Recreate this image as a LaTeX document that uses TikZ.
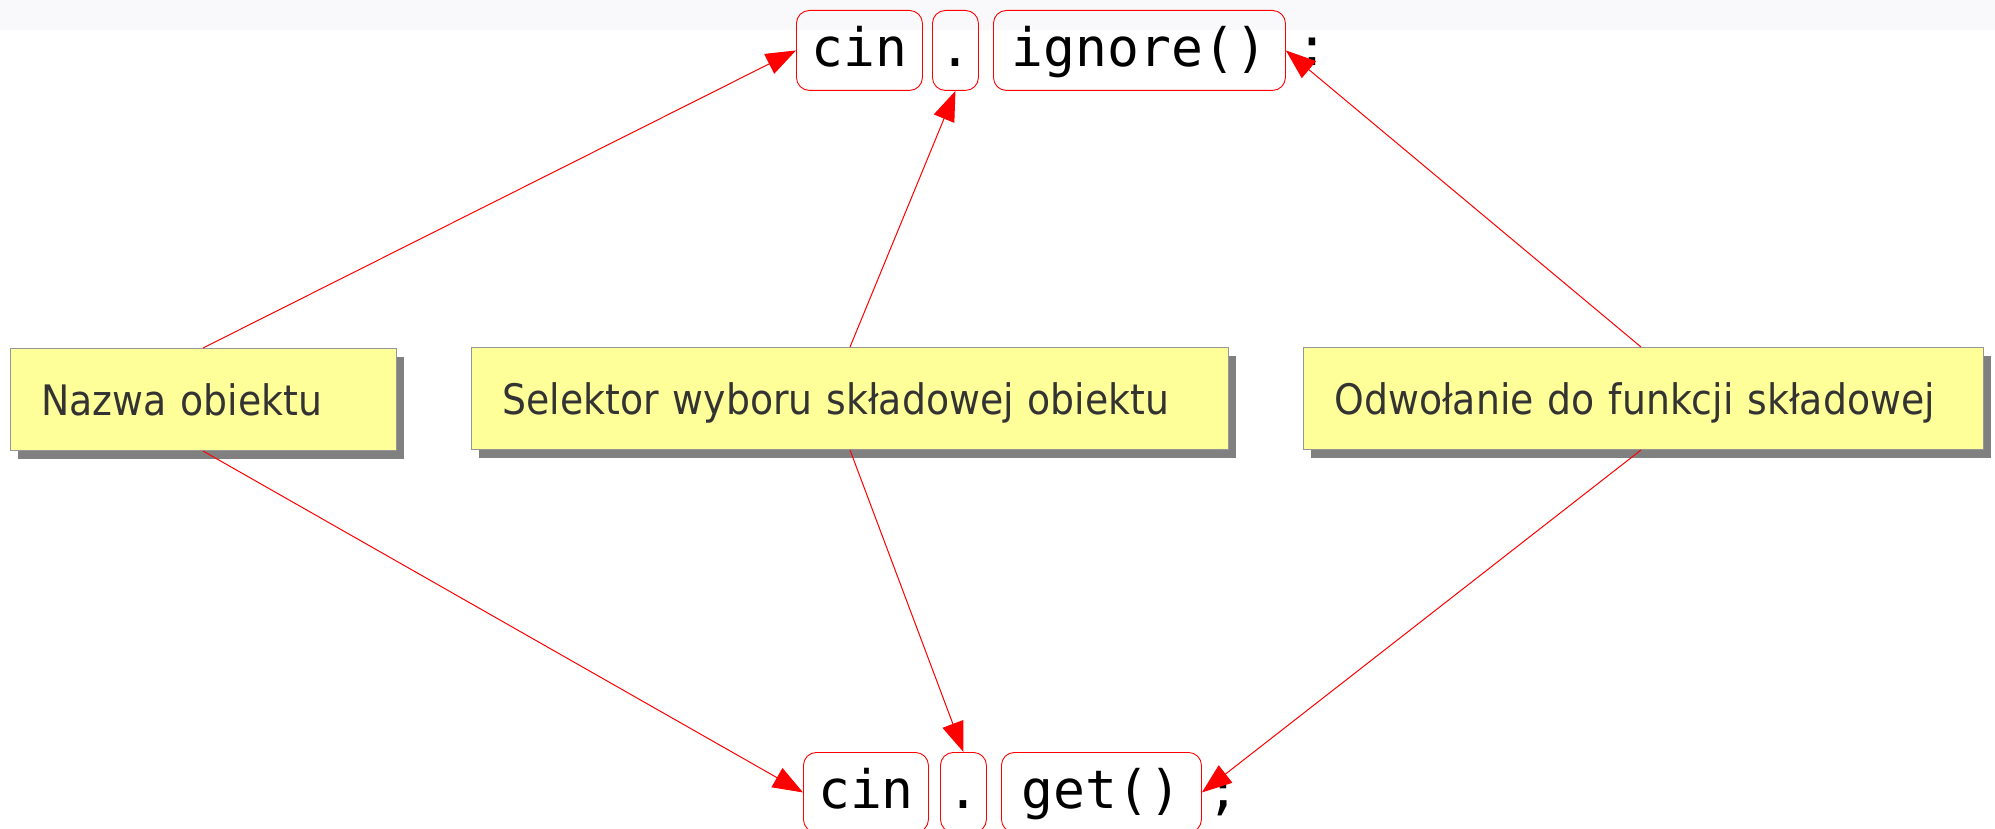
\documentclass[tikz,border=0pt]{standalone}
\usepackage{fontspec}
\newfontfamily\boxfont{DejaVu Sans Condensed}
\newfontfamily\codefont{DejaVu Sans Mono}
\usetikzlibrary{arrows.meta,shadows,calc}
\definecolor{boxyellow}{RGB}{255,255,153}
\definecolor{boxborder}{RGB}{150,150,150}
\definecolor{shadowgray}{RGB}{128,128,128}
\definecolor{textgray}{RGB}{51,51,51}
\definecolor{topband}{RGB}{249,249,252}
\definecolor{codered}{RGB}{255,0,0}
\begin{document}
\begin{tikzpicture}[x=1pt,y=-1pt,
  codebox/.style={draw=codered, line width=0.9pt, rounded corners=13pt, inner sep=0pt,
    text height=56pt, text depth=24pt, font=\codefont\fontsize{53}{60}\selectfont, anchor=north west},
  codetxt/.style={inner sep=0pt, font=\codefont\fontsize{53}{60}\selectfont, anchor=base},
  notebox/.style={draw=boxborder, line width=1pt, fill=boxyellow, text=textgray,
    font=\boxfont\fontsize{42}{48}\selectfont, inner xsep=31pt, inner ysep=0pt,
    text height=67pt, text depth=35pt, align=left, anchor=north west,
    drop shadow={shadow xshift=7pt, shadow yshift=-8pt, fill=shadowgray, opacity=1}},
  link/.style={draw=codered, line width=1pt, -{Triangle[length=30pt,width=22pt]}}
]
\useasboundingbox (0,0) rectangle (1995,829);
\clip (0,0) rectangle (1995,829);
\fill[topband] (0,0) rectangle (1995,30);

% top code line
\node[codebox, minimum width=126pt] (ct) at (796,10) {cin};
\node[codebox, minimum width=46pt] (dt) at (932,10) {.};
\node[codebox, minimum width=292pt] (it) at (993,10) {ignore()};
\node[codetxt] (colon) at (1312,66) {:};

% bottom code line
\node[codebox, minimum width=125pt] (cb) at (803,752) {cin};
\node[codebox, minimum width=46pt] (db) at (940,752) {.};
\node[codebox, minimum width=200pt] (gb) at (1001,752) {get()};
\node[codetxt] (semi) at (1223,808) {;};

% notes
\node[notebox, text width=324pt] (b1) at (10,348) {Nazwa obiektu};
\node[notebox, text width=695pt] (b2) at (471,347) {Selektor wyboru składowej obiektu};
\node[notebox, text width=618pt] (b3) at (1303,347) {Odwołanie do funkcji składowej};

% connectors
\draw[link] ($(b1.north west)+(193,0)$) -- (ct.west);
\draw[link] ($(b2.north west)+(379,0)$) -- (dt.south);
\draw[link] ($(b3.north west)+(338,0)$) -- (it.east);
\draw[link] ($(b1.south west)+(193,0)$) -- (cb.west);
\draw[link] ($(b2.south west)+(379,0)$) -- (db.north);
\draw[link] ($(b3.south west)+(338,0)$) -- (gb.east);
\end{tikzpicture}
\end{document}
